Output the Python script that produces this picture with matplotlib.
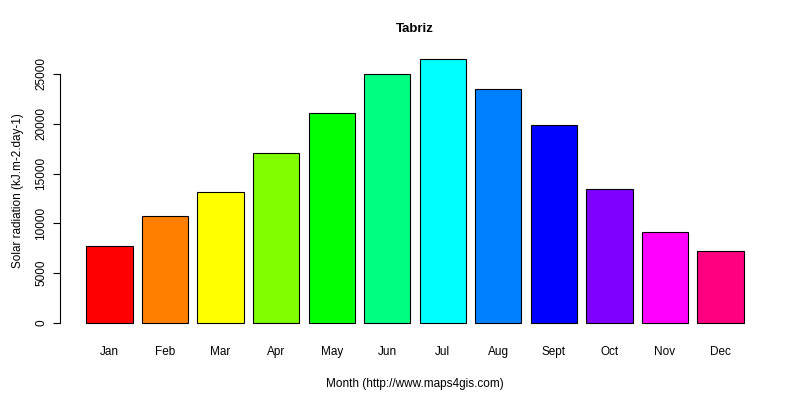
import matplotlib
matplotlib.use("Agg")
import matplotlib.pyplot as plt
import numpy as np

plt.rcParams['font.family'] = ['Liberation Sans', 'DejaVu Sans']

months = ["Jan", "Feb", "Mar", "Apr", "May", "Jun", "Jul", "Aug", "Sept", "Oct", "Nov", "Dec"]
radiation = [7750, 10750, 13150, 17070, 21080, 25000, 26500, 23490, 19880, 13450, 9140, 7230]
colors = ["#FF0000", "#FF8000", "#FFFF00", "#80FF00", "#00FF00", "#00FF80",
          "#00FFFF", "#0080FF", "#0000FF", "#8000FF", "#FF00FF", "#FF0080"]

fig = plt.figure(figsize=(8, 4), dpi=100)
ax = fig.add_axes([0.075, 0.166, 0.8875, 0.713])
x = 0.7 + 1.2 * np.arange(len(months))
ax.bar(x, radiation, width=1.0, color=colors, edgecolor="black", linewidth=0.8)
ax.set_xlim(-0.368, 14.968)
ax.set_ylim(-1060, 27560)
for s in ["top", "right", "bottom"]:
    ax.spines[s].set_visible(False)
ax.spines["left"].set_bounds(0, 25000)
ax.set_yticks([0, 5000, 10000, 15000, 20000, 25000])
ax.set_yticklabels(["0", "5000", "10000", "15000", "20000", "25000"], rotation=90, va="center", fontsize=8.5)
ax.set_xticks(x)
ax.set_xticklabels(months, fontsize=8.5)
ax.tick_params(axis="x", length=0, pad=9)
ax.tick_params(axis="y", length=5, pad=4)
ax.set_xlabel("Month (http://www.maps4gis.com)", fontsize=8.5, labelpad=14)
ax.set_ylabel("Solar radiation (kJ.m-2.day-1)", fontsize=8.5, labelpad=8)
ax.set_title("Tabriz", fontsize=9.5, fontweight="bold", pad=12)
fig.savefig("out.png", dpi=100)
